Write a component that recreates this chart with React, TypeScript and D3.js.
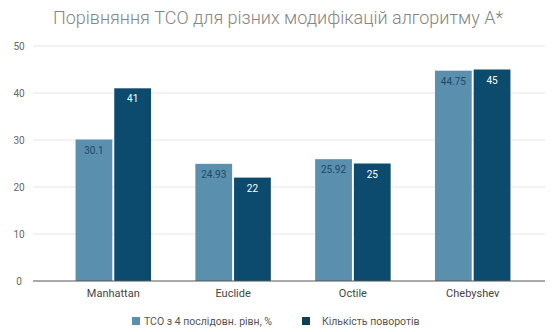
import React from "react";
import * as d3 from "d3";

const categories = ["Manhattan", "Euclide", "Octile", "Chebyshev"];
const tcoValues = [30.1, 24.93, 25.92, 44.75];
const turnValues = [41, 22, 25, 45];
const tcoLabels = ["30.1", "24.93", "25.92", "44.75"];
const turnLabels = ["41", "22", "25", "45"];
const yTicks = [0, 10, 20, 30, 40, 50];
const seriesNames = ["TCO з 4 послідовн. рівн, %", "Кількість поворотів"];
const title = "Порівняння TCO для різних модифікацій алгоритму A*";

const W = 552;
const H = 332;
const colors = ["#5a8fae", "#0c4a6e"];

export default function App() {
  const left = 33, right = 545, top = 46, bottom = 281;
  const x = d3.scaleBand<string>().domain(categories).range([54, 532]).paddingInner(0.37).paddingOuter(0.18);
  const y = d3.scaleLinear().domain([0, 50]).range([bottom, top]);
  const inner = d3.scaleBand<number>().domain([0, 1]).range([0, x.bandwidth()]).paddingInner(0.05);
  const series = [tcoValues, turnValues];
  const labels = [tcoLabels, turnLabels];
  const font = "Roboto, Arial, sans-serif";
  return (
    <svg width={W} height={H} style={{ position: "absolute", left: 0, top: 0, background: "#fff" }}>
      <text x={278} y={24} textAnchor="middle" fontFamily={font} fontSize={18} fontWeight={300} fill="#858585">{title}</text>
      {yTicks.map((t) => (
        <g key={t}>
          {t > 0 && <line x1={left} x2={right} y1={y(t)} y2={y(t)} stroke="#e6e6e6" strokeWidth={1} />}
          <text x={19} y={y(t) + 3.5} textAnchor="middle" fontFamily={font} fontSize={10} fill="#666">{t}</text>
        </g>
      ))}
      {categories.map((c, i) => (
        <g key={c}>
          {series.map((s, k) => {
            const bx = (x(c) as number) + (inner(k) as number);
            const bw = inner.bandwidth();
            return (
              <g key={k}>
                <rect x={bx} y={y(s[i])} width={bw} height={bottom - y(s[i])} fill={colors[k]} />
                <text x={bx + bw / 2} y={y(s[i]) + 14} textAnchor="middle" fontFamily={font} fontSize={10}
                  fill={k === 0 ? "#1f4a66" : "#ffffff"}>{labels[k][i]}</text>
              </g>
            );
          })}
          <text x={(x(c) as number) + x.bandwidth() / 2} y={297} textAnchor="middle" fontFamily={font} fontSize={11} fill="#444">{c}</text>
        </g>
      ))}
      <line x1={left} x2={right} y1={bottom} y2={bottom} stroke="#555" strokeWidth={1} />
      <g>
        <rect x={132} y={317} width={8} height={8} fill={colors[0]} />
        <text x={144} y={325} fontFamily={font} fontSize={10.5} fill="#555">{seriesNames[0]}</text>
        <rect x={302} y={317} width={8} height={8} fill="#0f3f52" />
        <text x={322} y={325} fontFamily={font} fontSize={10.5} fill="#555">{seriesNames[1]}</text>
      </g>
    </svg>
  );
}
